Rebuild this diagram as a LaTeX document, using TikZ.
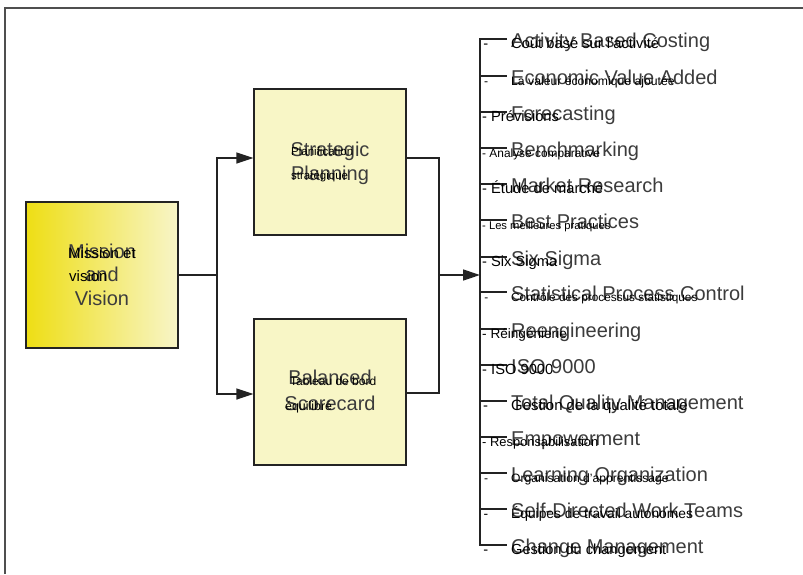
\documentclass[tikz,border=0pt]{standalone}
\usepackage{fontspec}
\setmainfont{Liberation Sans}
\usetikzlibrary{arrows.meta}
\definecolor{engray}{RGB}{60,60,60}
\definecolor{linec}{RGB}{35,35,35}
\definecolor{boxfill}{RGB}{248,246,198}
\definecolor{yelL}{RGB}{238,222,20}
\definecolor{yelR}{RGB}{248,245,200}
\tikzset{
  box/.style={draw=linec, line width=1.2pt, minimum width=152pt, minimum height=146pt, inner sep=0},
  en/.style={anchor=base west, inner sep=0, text=engray, font=\fontsize{20}{24}\selectfont},
  enc/.style={anchor=base, inner sep=0, text=engray, font=\fontsize{20}{24}\selectfont},
  fr/.style={anchor=base west, inner sep=0, text=black},
  conn/.style={draw=linec, line width=1.4pt},
  arr/.style={conn, -{Triangle[length=17pt,width=11pt]}},
  brk/.style={draw=linec, line width=1.4pt},
  frame/.style={draw=linec!80, line width=1.5pt}
}
\newcommand{\fs}[1]{\fontsize{#1}{#1}\selectfont}
\newcommand{\tabdash}{\llap{-\hspace{23pt}}}
\begin{document}
\begin{tikzpicture}[x=1pt,y=-1pt]
\useasboundingbox[fill=white] (0,0) rectangle (803,574);
% outer frame (only top and left visible)
\draw[frame] (5,574) -- (5,8) -- (803,8);

% boxes
\node[box, left color=yelL, right color=yelR] (mission) at (102,275) {};
\node[box, fill=boxfill] (strat) at (330,162) {};
\node[box, fill=boxfill] (bal) at (330,392) {};

% box texts (English)
\node[enc] (m1) at (102,258) {Mission};
\node[enc] (m2) at (102,281) {and};
\node[enc] (m3) at (102,305) {Vision};
\node[enc] (s1) at (330,156) {Strategic};
\node[enc] (s2) at (330,180) {Planning};
\node[enc] (b1) at (330,384) {Balanced};
\node[enc] (b2) at (330,410) {Scorecard};
% box texts (French)
\node[fr, font=\fs{15}] (mf1) at (68,258) {Mission et};
\node[fr, font=\fs{15}] (mf2) at (69,281) {vision};
\node[fr, font=\fs{11.5}] (sf1) at (291,155) {Planification};
\node[fr, font=\fs{11.5}] (sf2) at (291,179) {stratégique};
\node[fr, font=\fs{12}] (bf1) at (290,385) {Tableau de bord};
\node[fr, font=\fs{12.4}] (bf2) at (285,410) {équilibré};

% connectors left
\coordinate (j1) at (217,275);
\coordinate (j2) at (439,275);
\coordinate (barmid) at (480,275);
\draw[conn] (mission.east) -- (j1);
\draw[arr] (j1) |- ([yshift=4pt]strat.west);
\draw[arr] (j1) |- ([yshift=-2pt]bal.west);
% connectors right
\draw[conn] ([yshift=4pt]strat.east) -| (j2);
\draw[conn] ([yshift=-1pt]bal.east) -| (j2);
\draw[arr] (j2) -- (barmid);

% bracket
\draw[brk] (507,39) -- (480,39) -- (480,545) -- (507,545);
\foreach \yy in {76,112,148,184,220,257,292,329,365,401,437,473,509}
  \draw[brk] (480,\yy) -- (507,\yy);

% English list
\node[en] (e1)  at (511,47.5)  {Activity Based Costing};
\node[en] (e2)  at (511,84.5)  {Economic Value Added};
\node[en] (e3)  at (511,120.5) {Forecasting};
\node[en] (e4)  at (511,156.5) {Benchmarking};
\node[en] (e5)  at (511,192.5) {Market Research};
\node[en] (e6)  at (511,228.5) {Best Practices};
\node[en] (e7)  at (511,265.5) {Six Sigma};
\node[en] (e8)  at (511,300.5) {Statistical Process Control};
\node[en] (e9)  at (511,337.5) {Reengineering};
\node[en] (e10) at (511,373.5) {ISO 9000};
\node[en] (e11) at (511,409.5) {Total Quality Management};
\node[en] (e12) at (511,445.5) {Empowerment};
\node[en] (e13) at (511,481.5) {Learning Organization};
\node[en] (e14) at (511,517.5) {Self-Directed Work Teams};
\node[en] (e15) at (511,553.5) {Change Management};

% French list
\node[fr, font=\fs{14.7}] (f1)  at (511,48.5)  {\tabdash Coût basé sur l'activité};
\node[fr, font=\fs{12.2}] (f2)  at (511,85.5)  {\tabdash La valeur économique ajoutée};
\node[fr, font=\fs{14.7}] (f3)  at (482,121.5) {- Prévisions};
\node[fr, font=\fs{11.9}] (f4)  at (482,157.5) {- Analyse comparative};
\node[fr, font=\fs{14.7}] (f5)  at (482,193.5) {- Étude de marché};
\node[fr, font=\fs{11.2}] (f6)  at (482,229.5) {- Les meilleures pratiques};
\node[fr, font=\fs{14.7}] (f7)  at (482,266.5) {- Six Sigma};
\node[fr, font=\fs{11.8}] (f8)  at (511,301.5) {\tabdash Contrôle des processus statistiques};
\node[fr, font=\fs{13.6}] (f9)  at (482,338.5) {- Réingénierie};
\node[fr, font=\fs{14.7}] (f10) at (482,374.5) {- ISO 9000};
\node[fr, font=\fs{14.9}] (f11) at (511,410.5) {\tabdash Gestion de la qualité totale};
\node[fr, font=\fs{12.9}] (f12) at (482,446.5) {- Responsabilisation};
\node[fr, font=\fs{12.1}] (f13) at (511,482.5) {\tabdash Organisation d'apprentissage};
\node[fr, font=\fs{13.8}] (f14) at (511,518.5) {\tabdash Équipes de travail autonomes};
\node[fr, font=\fs{14.6}] (f15) at (511,554.5) {\tabdash Gestion du changement};
\end{tikzpicture}
\end{document}
